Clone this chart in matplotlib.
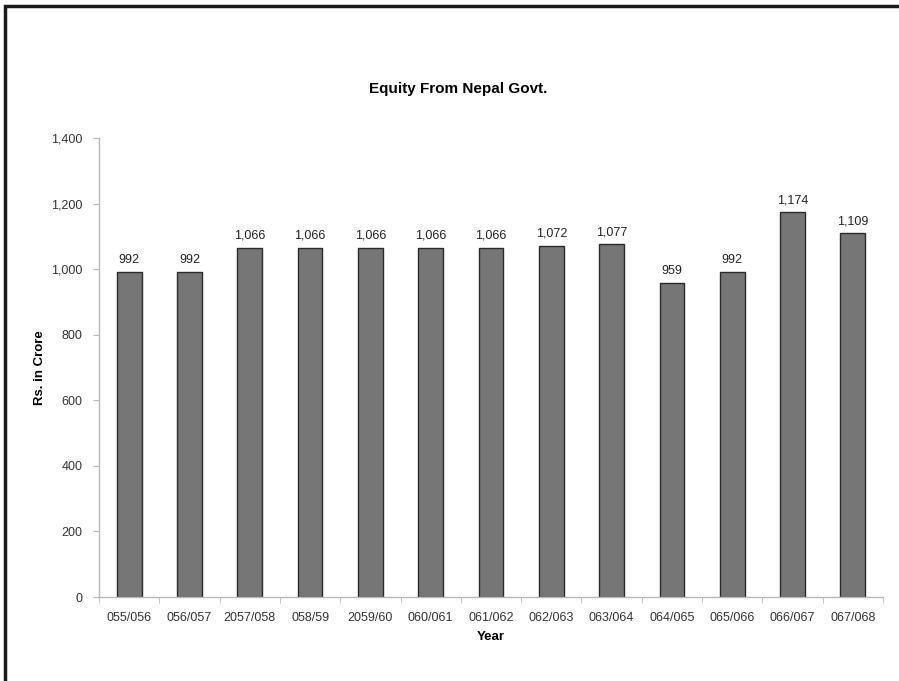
import matplotlib
matplotlib.use("Agg")
import matplotlib.pyplot as plt
from matplotlib.patches import Rectangle
from matplotlib.ticker import FuncFormatter, MultipleLocator

years = ["055/056", "056/057", "2057/058", "058/59", "2059/60", "060/061",
         "061/062", "062/063", "063/064", "064/065", "065/066", "066/067", "067/068"]
equity = [992, 992, 1066, 1066, 1066, 1066, 1066, 1072, 1077, 959, 992, 1174, 1109]

BAR = "#767676"
AXIS = "#b8b8b8"

plt.rcParams.update({
    "font.family": ["Liberation Sans", "DejaVu Sans"],
    "font.size": 9,
})

fig = plt.figure(figsize=(8.99, 6.81), dpi=100)
W, H = 899, 681
AX_L, AX_R, AX_T, AX_B = 99, 883, 138, 597
ax = fig.add_axes([AX_L / W, 1 - AX_B / H, (AX_R - AX_L) / W, (AX_B - AX_T) / H])

x = list(range(len(years)))
ax.bar(x, equity, width=0.41, color=BAR, edgecolor="#2a2a2a", linewidth=1.0)
for xi, v in zip(x, equity):
    ax.annotate(f"{v:,}", (xi, v), textcoords="offset points", xytext=(0, 4),
                ha="center", va="bottom", fontsize=9, color="#222222")

ax.set_xlim(-0.5, len(years) - 0.5)
ax.set_ylim(0, 1400)
ax.yaxis.set_major_locator(MultipleLocator(200))
ax.yaxis.set_major_formatter(FuncFormatter(lambda v, p: f"{int(v):,}"))
ax.set_xticks(x)
ax.set_xticklabels(years)
ax.set_xticks([i - 0.5 for i in range(len(years) + 1)], minor=True)
ax.tick_params(axis="x", which="major", length=0, pad=11, colors="#333333")
ax.tick_params(axis="x", which="minor", length=4, color=AXIS)
ax.tick_params(axis="y", length=4, color=AXIS, colors="#333333", pad=8)

for side in ("top", "right"):
    ax.spines[side].set_visible(False)
for side in ("left", "bottom"):
    ax.spines[side].set_color(AXIS)
    ax.spines[side].set_linewidth(1.0)

ax.set_xlabel("Year", fontweight="bold", fontsize=9.5)
ax.xaxis.set_label_coords(0.5, -(637 - AX_B) / (AX_B - AX_T), transform=ax.transAxes)
ax.xaxis.label.set_va("center")
ax.set_ylabel("Rs. in Crore", fontweight="bold", fontsize=9.5)
ax.yaxis.set_label_coords(-(AX_L - 40) / (AX_R - AX_L), 0.5, transform=ax.transAxes)
ax.yaxis.label.set_va("center")
fig.text(458 / W, 1 - 89 / H, "Equity From Nepal Govt.",
         ha="center", va="center", fontweight="bold", fontsize=11)

# frame of the original slide (only left and top edges visible)
fig.patches.append(Rectangle((5 / W, -0.1), 1.2, 1 - 6.5 / H + 0.1,
                             transform=fig.transFigure, fill=False,
                             edgecolor="#1a1a1a", linewidth=2.5))

fig.savefig("out.png", dpi=100, facecolor="white")
